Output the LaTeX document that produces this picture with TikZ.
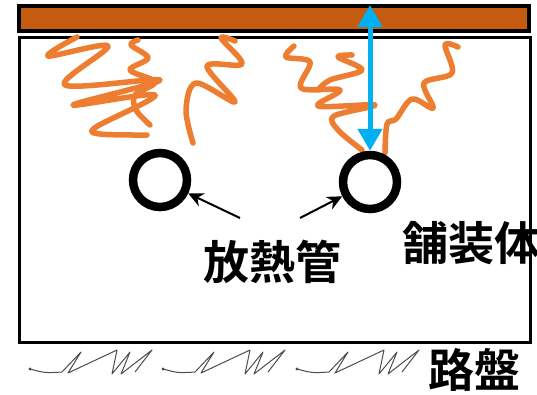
\documentclass[tikz,border=0pt]{standalone}
\usepackage{fontspec}
\newfontfamily\cjk{Noto Sans CJK JP Bold}
\usepackage{xcolor}
\usepackage{tikz}
\usetikzlibrary{arrows.meta}

\definecolor{pavebrown}{RGB}{197,90,17}
\definecolor{heatorange}{RGB}{237,125,49}
\definecolor{depthblue}{RGB}{0,176,240}

\tikzset{
    pipe/.style={circle,draw,line width=8.5pt,minimum size=54pt,inner sep=0pt},
    heat/.style={heatorange,line width=5.5pt,line cap=round,line join=round},
    label/.style={font=\cjk\fontsize{46}{46}\selectfont,inner sep=0pt},
    pointer/.style={line width=2pt,-{Stealth[length=15pt,width=14pt]}},
    scribble/.style={gray!60!black,line width=1pt,line join=round}
}

\begin{document}
\begin{tikzpicture}[x=1pt,y=-1pt]
    \useasboundingbox (0,0) rectangle (537,394);

    % Layers:
    % Surface layer on top, pavement body below it
    \draw [line width=3.5pt,fill=pavebrown] (19,6) rectangle (529,31);
    \draw [line width=3pt] (19,37) rectangle (530,342);

    % Heat rising from the pipes:
    \draw [heat] plot [smooth,tension=0.55] coordinates {(77,37) (48,56) (108,46) (65,85) (160,80) (73,105) (155,95) (96,127) (100,134) (147,135)};
    \draw [heat] plot [smooth,tension=0.55] coordinates {(138,40) (131,45) (148,58) (130,70) (155,82) (135,95) (136,110) (150,125)};
    \draw [heat] plot [smooth,tension=0.55] coordinates {(235,41) (221,38) (242,64) (207,66) (235,102) (196,83) (186,110) (193,143)};
    \draw [heat] plot [smooth,tension=0.55] coordinates {(294,46) (286,57) (310,62) (301,88) (340,90) (318,106) (375,105) (334,116) (338,130) (362,150)};
    \draw [heat] plot [smooth,tension=0.55] coordinates {(352,55) (338,57) (362,70) (330,80) (318,90)};
    \draw [heat] plot [smooth,tension=0.55] coordinates {(458,47) (445,45) (452,73) (424,83) (433,108) (412,99) (396,119) (387,124) (385,153)};

    % Pipes:
    \node [pipe] (pipeL) at (160,180) {};
    \node [pipe] (pipeR) at (370,182) {};

    % Depth from the surface down to the pipe:
    \coordinate (surf) at (370,5);
    \draw [depthblue,line width=5pt,{Triangle[length=22pt,width=24pt]}-{Triangle[length=22pt,width=24pt]}] (surf) -- (pipeR.north);

    % Labels:
    \node [label] (pipes) at (272,262) {放熱管};
    \node [label] (body) at (471,243) {舗装体};
    \node [label] (base) at (474,370) {路盤};

    \coordinate (ptrL) at (240,218);
    \coordinate (ptrR) at (300,218);
    \draw [pointer] (ptrL) -- (pipeL);
    \draw [pointer] (ptrR) -- (pipeR);

    % Base course scribbles, repeated along the bottom:
    \foreach \dx in {0,133,267}{%
        \begin{scope}[xshift=\dx]
            \fill [gray!60!black] (30,369) circle (1.6pt);
            \draw [scribble] (30,369) .. controls (45,373) .. (62,372) -- (81,352) -- (68,373)
                -- (117,350) -- (112,374) -- (130,352) -- (121,374) -- (152,350) -- (135,372);
        \end{scope}
    }
\end{tikzpicture}
\end{document}
